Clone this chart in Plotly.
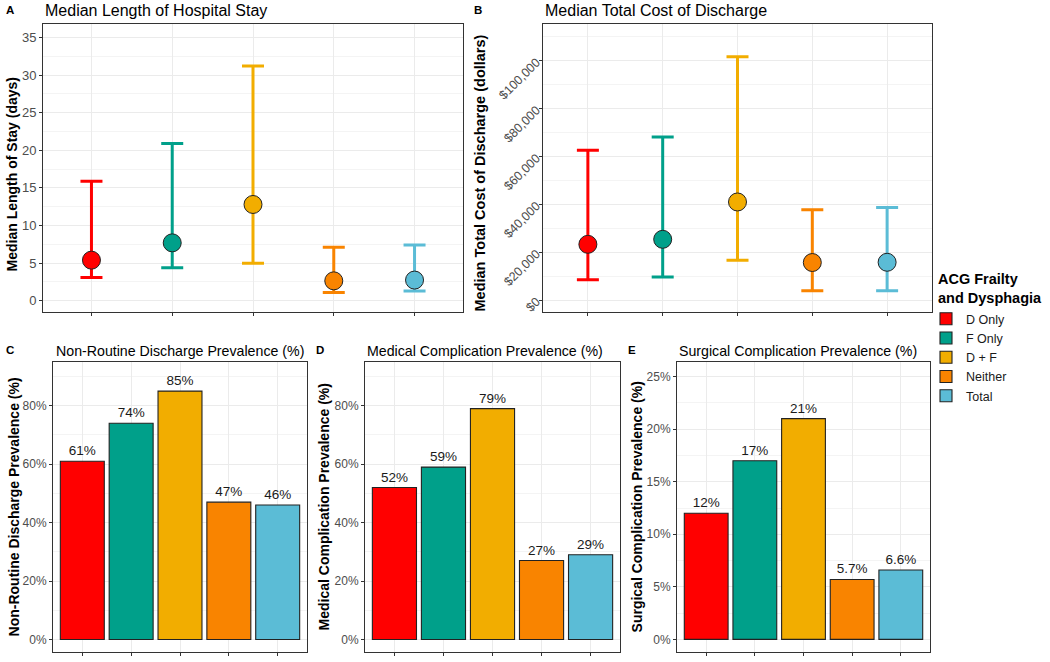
import plotly.graph_objects as go

groups = ["D Only", "F Only", "D + F", "Neither", "Total"]
colors = ["#FF0000", "#00A08A", "#F2AD00", "#F98400", "#5BBCD6"]

# Panel A: length of stay (days)
los_median = [5.4, 7.7, 12.8, 2.65, 2.75]
los_lower = [3.1, 4.4, 5.0, 1.1, 1.3]
los_upper = [15.9, 20.9, 31.2, 7.1, 7.4]

# Panel B: total cost (dollars)
cost_median = [23300, 25400, 41000, 15700, 15800]
cost_lower = [8500, 9700, 16700, 3900, 3900]
cost_upper = [62600, 68100, 101700, 37700, 38700]

# Panels C, D, E: prevalence (%)
nonroutine = [61, 74, 85, 47, 46]
medical = [52, 59, 79, 27, 29]
surgical = [12, 17, 21, 5.7, 6.6]

# tick values
los_ticks = [0, 5, 10, 15, 20, 25, 30, 35]
cost_ticks = [0, 20000, 40000, 60000, 80000, 100000]
pct_ticks_big = [0, 20, 40, 60, 80]
pct_ticks_small = [0, 5, 10, 15, 20, 25]

W, H = 1050, 662
FONT = "Liberation Sans, Arial, sans-serif"


def px_x(p):
    return p / W


def px_y(p):
    return 1 - p / H


fig = go.Figure()

dom = {
    "A": ([43, 463], [24, 313]),
    "B": ([543, 932], [24, 313]),
    "C": ([53, 307], [363, 654]),
    "D": ([365, 620], [363, 654]),
    "E": ([677, 930], [363, 654]),
}
axes_ids = {"A": ("x", "y"), "B": ("x2", "y2"), "C": ("x3", "y3"), "D": ("x4", "y4"), "E": ("x5", "y5")}

for panel, med, lo, up in [("A", los_median, los_lower, los_upper),
                           ("B", cost_median, cost_lower, cost_upper)]:
    xa, ya = axes_ids[panel]
    for i, g in enumerate(groups):
        fig.add_trace(go.Scatter(
            x=[g], y=[med[i]], mode="markers", xaxis=xa, yaxis=ya,
            showlegend=False, name=g,
            marker=dict(size=18, color=colors[i], line=dict(color="#222222", width=1)),
            error_y=dict(type="data", symmetric=False, array=[up[i] - med[i]],
                         arrayminus=[med[i] - lo[i]], color=colors[i], thickness=3, width=11),
        ))

for panel, vals in [("C", nonroutine), ("D", medical), ("E", surgical)]:
    xa, ya = axes_ids[panel]
    for i, g in enumerate(groups):
        fig.add_trace(go.Bar(
            x=[g], y=[vals[i]], xaxis=xa, yaxis=ya, width=0.9, name=g,
            legendgroup=g, showlegend=(panel == "C"),
            marker=dict(color=colors[i], line=dict(color="#222222", width=1.1)),
            text=[f"{vals[i]:g}%"], textposition="outside", cliponaxis=False,
            textfont=dict(size=13.5, color="#1a1a1a", family=FONT),
        ))

yranges = {"A": [-1.5, 36.8], "B": [-5000, 115400], "C": [-4.3, 95], "D": [-4.3, 95], "E": [-1.2, 26.4]}
minor_dt = {"A": 2.5, "B": 10000, "C": 10, "D": 10, "E": 2.5}
tickvals = {"A": los_ticks, "B": cost_ticks, "C": pct_ticks_big, "D": pct_ticks_big, "E": pct_ticks_small}
ticktext = {
    "A": [f"{v}" for v in los_ticks],
    "B": [f"${v:,}" for v in cost_ticks],
    "C": [f"{v}%" for v in pct_ticks_big],
    "D": [f"{v}%" for v in pct_ticks_big],
    "E": [f"{v}%" for v in pct_ticks_small],
}
tickfs = {"A": 13, "B": 12.5, "C": 12, "D": 12, "E": 12}

layout = dict(
    width=W, height=H, margin=dict(l=0, r=0, t=0, b=0),
    paper_bgcolor="white", plot_bgcolor="white",
    font=dict(family=FONT, color="#1a1a1a"),
    barmode="overlay", showlegend=True,
    legend=dict(x=px_x(926), y=px_y(305), xanchor="left", yanchor="top",
                font=dict(size=12.5, color="#1a1a1a"), tracegroupgap=0, itemwidth=30,
                bgcolor="rgba(0,0,0,0)"),
)

for panel, (xd, yd) in dom.items():
    xa, ya = axes_ids[panel]
    xkey = "xaxis" if xa == "x" else "xaxis" + xa[1:]
    ykey = "yaxis" if ya == "y" else "yaxis" + ya[1:]
    layout[xkey] = dict(
        domain=[px_x(xd[0]), px_x(xd[1])], anchor=ya, type="category",
        categoryorder="array", categoryarray=groups, range=[-0.6, 4.6],
        showticklabels=False, ticks="outside", ticklen=3, tickcolor="#333333",
        showgrid=True, gridcolor="#EBEBEB", gridwidth=1,
        showline=True, mirror=True, linecolor="#333333", linewidth=1, zeroline=False,
    )
    yd_ = dict(
        domain=[px_y(yd[1]), px_y(yd[0])], anchor=xa, range=yranges[panel],
        tickmode="array", tickvals=tickvals[panel], ticktext=ticktext[panel],
        ticks="outside", ticklen=3, tickcolor="#333333",
        tickfont=dict(size=tickfs[panel], color="#4D4D4D"),
        showgrid=True, gridcolor="#EBEBEB", gridwidth=1,
        minor=dict(dtick=minor_dt[panel], tick0=minor_dt[panel], showgrid=True,
                   gridcolor="#F4F4F4", gridwidth=0.6, ticks=""),
        showline=True, mirror=True, linecolor="#333333", linewidth=1, zeroline=False,
    )
    if panel == "B":
        yd_["tickangle"] = -45
    layout[ykey] = yd_

fig.update_layout(**layout)

titles = {
    "A": ("Median Length of Hospital Stay", 16, 43, 11),
    "B": ("Median Total Cost of Discharge", 16, 543, 11),
    "C": ("Non-Routine Discharge Prevalence (%)", 14.2, 54, 352),
    "D": ("Medical Complication Prevalence (%)", 14.2, 365, 352),
    "E": ("Surgical Complication Prevalence (%)", 14.2, 677, 352),
}
letters = {"A": (10, 10), "B": (478, 10), "C": (10, 351), "D": (320, 351), "E": (632, 351)}
ytitles = {
    "A": ("Median Length of Stay (days)", 14, 12, 175),
    "B": ("Median Total Cost of Discharge (dollars)", 14.5, 480, 174),
    "C": ("Non-Routine Discharge Prevalence (%)", 14, 14, 509),
    "D": ("Medical Complication Prevalence (%)", 14, 324, 509),
    "E": ("Surgical Complication Prevalence (%)", 14, 637, 509),
}
for p, (t, fs, x, y) in titles.items():
    fig.add_annotation(text=t, x=px_x(x), y=px_y(y), xref="paper", yref="paper",
                       xanchor="left", yanchor="middle", showarrow=False,
                       font=dict(size=fs, color="#000"))
for p, (x, y) in letters.items():
    fig.add_annotation(text=f"<b>{p}</b>", x=px_x(x), y=px_y(y), xref="paper", yref="paper",
                       xanchor="center", yanchor="middle", showarrow=False,
                       font=dict(size=11.5, color="#000"))
for p, (t, fs, x, y) in ytitles.items():
    fig.add_annotation(text=f"<b>{t}</b>", x=px_x(x), y=px_y(y), xref="paper", yref="paper",
                       xanchor="center", yanchor="middle", showarrow=False, textangle=-90,
                       font=dict(size=fs, color="#000"))

# legend title
fig.add_annotation(text="<b>ACG Frailty<br>and Dysphagia</b>", x=px_x(936), y=px_y(289),
                   xref="paper", yref="paper", xanchor="left", yanchor="middle",
                   align="left", showarrow=False, font=dict(size=14.5, color="#000"))

fig.write_html("out.html", config={"displayModeBar": False},
               post_script="document.body.style.margin='0px';")
